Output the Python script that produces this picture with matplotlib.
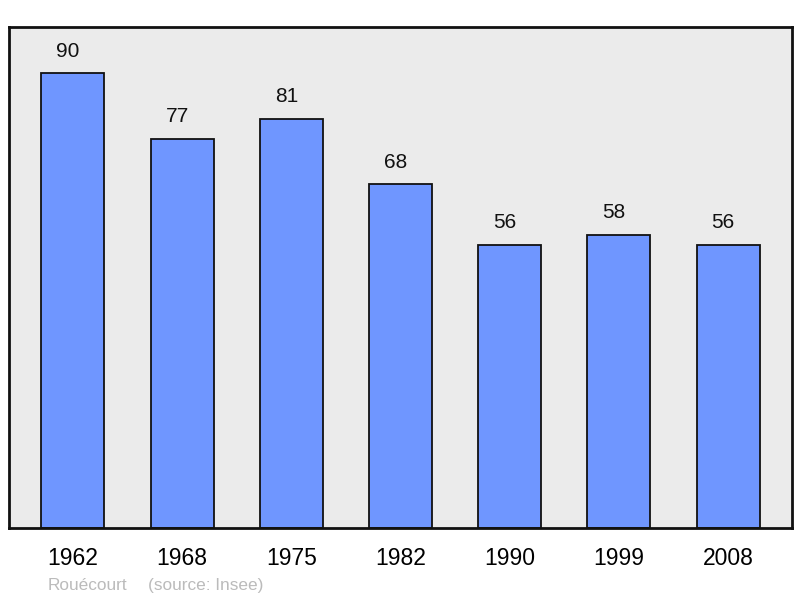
import matplotlib.pyplot as plt

plt.rcParams['font.family'] = ['Liberation Sans', 'DejaVu Sans']

years = ['1962', '1968', '1975', '1982', '1990', '1999', '2008']
population = [90, 77, 81, 68, 56, 58, 56]
place = 'Rouécourt'
source = '(source: Insee)'

fig = plt.figure(figsize=(8, 5.98), dpi=100)
ax = fig.add_axes([0.01125, 0.117, 0.97875, 0.8378])
ax.set_facecolor('#ebebeb')

x = list(range(len(years)))
ax.bar(x, population, width=0.576, color='#6f96ff', edgecolor='#111111', linewidth=1.3, zorder=2)

# value labels sit a little left of the bar centre, like the original
for xi, v in zip(x, population):
    ax.annotate(str(v), (xi, v), xytext=(-3.5, 9), textcoords='offset points',
                ha='center', va='bottom', fontsize=15, color='#111111')

ax.set_xlim(-0.585, 6.585)
ax.set_ylim(0, 99.1)
ax.set_xticks(x)
ax.set_xticklabels(years, fontsize=16.5)
ax.tick_params(axis='x', length=0, pad=14)
ax.set_yticks([])
for s in ax.spines.values():
    s.set_linewidth(2)
    s.set_color('#111111')

fig.text(48 / 800, 1 - 590 / 598, place, fontsize=12.4, color='#bbbbbb', ha='left', va='baseline')
fig.text(148 / 800, 1 - 590 / 598, source, fontsize=12.4, color='#bbbbbb', ha='left', va='baseline')

fig.savefig('out.png', dpi=100)
